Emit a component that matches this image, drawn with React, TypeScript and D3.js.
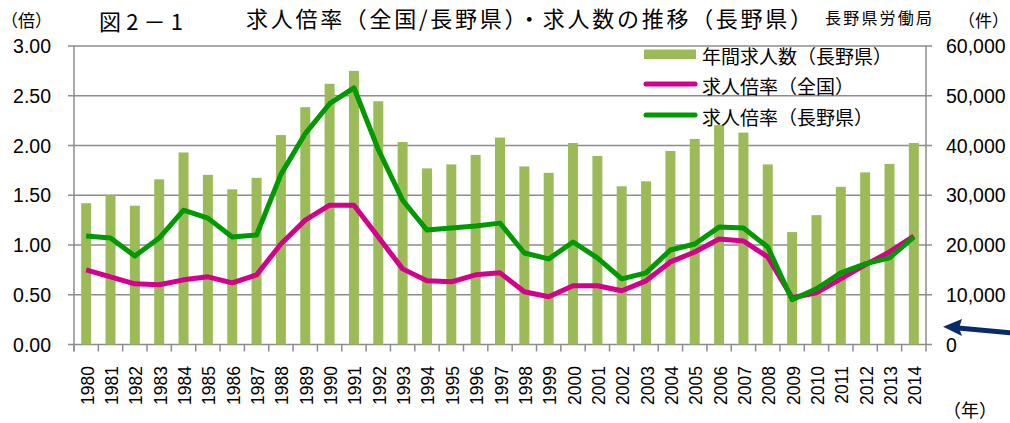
import React from 'react'
import * as d3 from 'd3'

const years = ['1980','1981','1982','1983','1984','1985','1986','1987','1988','1989','1990','1991','1992','1993','1994','1995','1996','1997','1998','1999','2000','2001','2002','2003','2004','2005','2006','2007','2008','2009','2010','2011','2012','2013','2014']

// 年間求人数（長野県）
const jobCounts = [28400, 30000, 27900, 33200, 38600, 34100, 31200, 33500, 42100, 47700, 52400, 55000, 48900, 40700, 35400, 36200, 38100, 41600, 35800, 34500, 40500, 37900, 31800, 32800, 38900, 41300, 44100, 42600, 36200, 22600, 26000, 31700, 34600, 36300, 40500]

// 求人倍率（全国）
const ratioJapan = [0.75, 0.68, 0.61, 0.60, 0.65, 0.68, 0.62, 0.70, 1.01, 1.25, 1.40, 1.40, 1.08, 0.76, 0.64, 0.63, 0.70, 0.72, 0.53, 0.48, 0.59, 0.59, 0.54, 0.64, 0.83, 0.93, 1.06, 1.04, 0.88, 0.47, 0.52, 0.66, 0.80, 0.93, 1.09]

// 求人倍率（長野県）
const ratioNagano = [1.09, 1.07, 0.89, 1.07, 1.35, 1.27, 1.08, 1.10, 1.71, 2.12, 2.42, 2.58, 1.96, 1.45, 1.15, 1.17, 1.19, 1.22, 0.92, 0.86, 1.03, 0.87, 0.66, 0.72, 0.95, 1.01, 1.18, 1.17, 0.98, 0.45, 0.56, 0.72, 0.81, 0.87, 1.08]

const leftTicks = [0, 0.5, 1.0, 1.5, 2.0, 2.5, 3.0]
const rightTicks = [0, 10000, 20000, 30000, 40000, 50000, 60000]

const W = 1010
const H = 423
const left = 74
const right = 926
const top = 46
const bottom = 344.5

const jp = '"Noto Sans CJK JP", sans-serif'
const num = '"Liberation Sans", Arial, sans-serif'

export default function App() {
  const x = d3.scaleBand<string>()
    .domain(years)
    .range([left, right])
    .paddingInner(0.59)
    .paddingOuter(0.295)
  const step = x.step()
  const cx = (i: number) => (x(years[i]) as number) + x.bandwidth() / 2

  const yL = d3.scaleLinear().domain([0, 3]).range([bottom, top])
  const yR = d3.scaleLinear().domain([0, 60000]).range([bottom, top])

  const line = (vals: number[]) =>
    d3.line<number>()
      .x((d, i) => cx(i))
      .y(d => yL(d))(vals) as string

  const fmt = d3.format(',')

  return (
    <svg width={W} height={H} style={{ position: 'absolute', left: 0, top: 0, background: '#fff' }}>
      {/* header texts */}
      <text x={1} y={27} fontFamily={jp} fontSize={17} fill="#000">（倍）</text>
      <text x={99} y={30} fontFamily={jp} fontSize={22} fill="#000" textLength={84} lengthAdjust="spacing">図2－1</text>
      <text x={246} y={27} fontFamily={jp} fontSize={22} fill="#000" textLength={566} lengthAdjust="spacing">求人倍率（全国/長野県）・求人数の推移（長野県）</text>
      <text x={825} y={24} fontFamily={jp} fontSize={16} fill="#000" textLength={107} lengthAdjust="spacing">長野県労働局</text>
      <text x={958} y={27} fontFamily={jp} fontSize={17} fill="#000">（件）</text>
      <text x={943} y={417} fontFamily={jp} fontSize={18} fill="#000">（年）</text>

      {/* grid */}
      {leftTicks.map(t => (
        <line key={'g' + t} x1={left - 6} x2={right + 6} y1={yL(t)} y2={yL(t)}
          stroke="#8c8c8c" strokeWidth={t === 0 ? 1.5 : 1.3} />
      ))}
      {/* axes */}
      <line x1={left} x2={left} y1={top} y2={bottom + 7} stroke="#8c8c8c" strokeWidth={1.5} />
      <line x1={right} x2={right} y1={top} y2={bottom + 7} stroke="#8c8c8c" strokeWidth={1.5} />
      {years.map((yr, i) => (
        <line key={'t' + yr} x1={left + step * i} x2={left + step * i} y1={bottom} y2={bottom + 7}
          stroke="#8c8c8c" strokeWidth={1.5} />
      ))}

      {/* left tick labels */}
      {leftTicks.map(t => (
        <text key={'l' + t} x={51} y={yL(t) + 7} textAnchor="end" fontFamily={num} fontSize={19.5} fill="#000">
          {t.toFixed(2)}
        </text>
      ))}
      {/* right tick labels */}
      {rightTicks.map(t => (
        <text key={'r' + t} x={946} y={yR(t) + 7} fontFamily={num} fontSize={19.5} fill="#000">
          {fmt(t)}
        </text>
      ))}

      {/* x labels */}
      {years.map((yr, i) => (
        <text key={'x' + yr} transform={`translate(${cx(i) + 7.5},366) rotate(-90)`} textAnchor="end"
          fontFamily={num} fontSize={17.5} fill="#000">{yr}</text>
      ))}

      {/* bars */}
      {jobCounts.map((v, i) => (
        <rect key={'b' + i} x={x(years[i])} y={yR(v)} width={x.bandwidth()} height={bottom - yR(v)}
          fill="#9bbb59" />
      ))}

      {/* lines */}
      <path d={line(ratioJapan)} fill="none" stroke="#d4008c" strokeWidth={5} strokeLinejoin="round" />
      <path d={line(ratioNagano)} fill="none" stroke="#009a00" strokeWidth={5} strokeLinejoin="round" />

      {/* legend */}
      <rect x={644} y={49.5} width={52} height={9.5} fill="#9bbb59" />
      <text x={702} y={64} fontFamily={jp} fontSize={19} fill="#000">年間求人数（長野県）</text>
      <line x1={646} x2={695} y1={84} y2={84} stroke="#d4008c" strokeWidth={5} strokeLinecap="round" />
      <text x={702} y={94} fontFamily={jp} fontSize={19} fill="#000">求人倍率（全国）</text>
      <line x1={646} x2={695} y1={115} y2={115} stroke="#009a00" strokeWidth={5} strokeLinecap="round" />
      <text x={702} y={125} fontFamily={jp} fontSize={19} fill="#000">求人倍率（長野県）</text>

      {/* arrow */}
      <line x1={1012} x2={958} y1={333} y2={328} stroke="#0b2a6b" strokeWidth={5} />
      <path d="M943,326.7 L962,319 L959,328 L962,336 Z" fill="#0b2a6b" />
    </svg>
  )
}
